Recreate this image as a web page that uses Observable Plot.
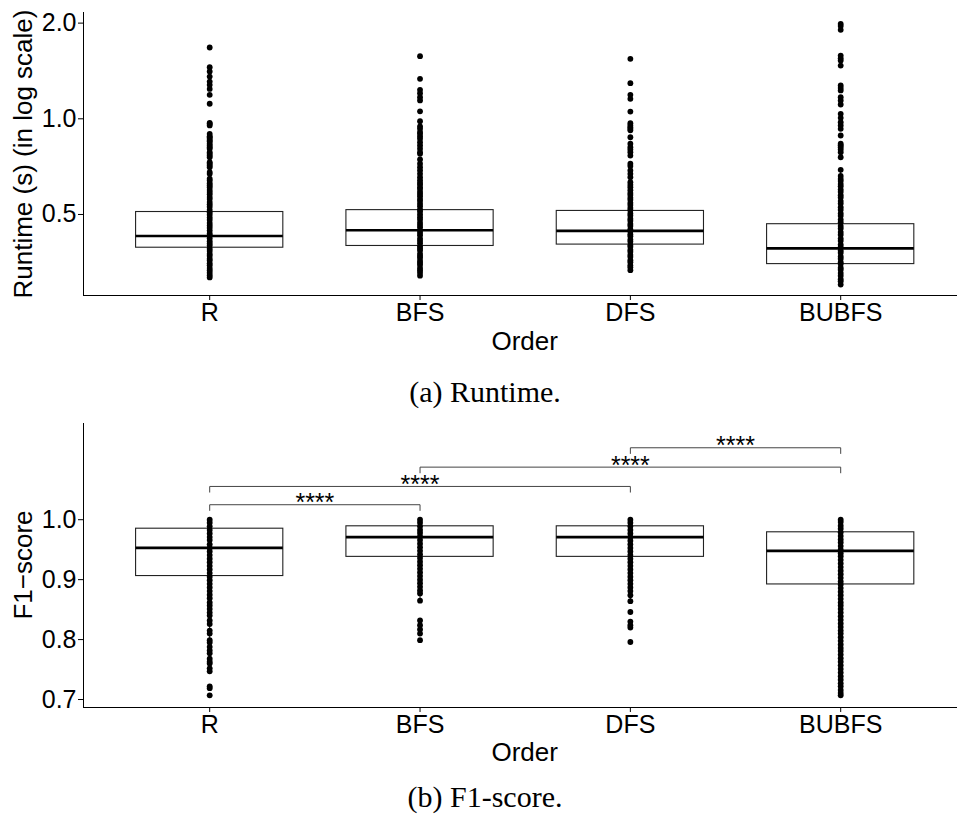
<!DOCTYPE html>
<html>
<head>
<meta charset="utf-8">
<script src="https://cdn.jsdelivr.net/npm/d3@7"></script>
<script src="https://cdn.jsdelivr.net/npm/@observablehq/plot@0.6"></script>
<style>
  body { margin: 0; background: white; }
  #fig { position: relative; width: 957px; height: 820px; background: white; overflow: hidden; }
  .plot { position: absolute; left: 0; }
  .t { position: absolute; white-space: nowrap; line-height: 1; color: #000;
       font-family: "Liberation Sans", Arial, sans-serif; font-size: 26px; }
  .xt { transform: translate(-50%, -50%); }
  .yt { transform: translate(-50%, -50%) rotate(-90deg); }
  .cap { position: absolute; white-space: nowrap; line-height: 1; color: #000;
         font-family: "Liberation Serif", "Times New Roman", serif; font-size: 30px;
         transform: translate(-50%, -50%); }
</style>
</head>
<body>
<div id="fig">
  <div id="p1" class="plot" style="top:0px"></div>
  <div class="t yt" style="left:22.5px; top:153.5px">Runtime (s) (in log scale)</div>
  <div class="t xt" style="left:524.7px; top:341px">Order</div>
  <div class="cap" style="left:485px; top:392px">(a) Runtime.</div>
  <div id="p2" class="plot" style="top:410px"></div>
  <div class="t yt" style="left:22.5px; top:565px">F1−score</div>
  <div class="t xt" style="left:524.7px; top:752px">Order</div>
  <div class="cap" style="left:485px; top:797px">(b) F1-score.</div>
</div>
<script>
// ---------- data ----------
const orders = ["R", "BFS", "DFS", "BUBFS"];

// Runtime (s) summary per order
const runtimeQ1     = [0.393, 0.398, 0.402, 0.349];
const runtimeMedian = [0.428, 0.446, 0.444, 0.391];
const runtimeQ3     = [0.509, 0.516, 0.513, 0.466];
const runtimeWhiskerHi = [0.713, 0.722, 0.722, 0.691];
const runtimeWhiskerLo = [0.317, 0.321, 0.334, 0.301];

const runtimeR = [1.676, 1.453, 1.409, 1.358, 1.31, 1.279, 1.242, 1.19, 1.115, 0.97, 0.965, 0.953, 0.897, 0.882, 0.875, 0.865, 0.855, 0.848, 0.835, 0.824, 0.814, 0.805, 0.785, 0.776, 0.766, 0.757, 0.73, 0.722, 0.713, 0.704, 0.68, 0.671, 0.648, 0.639, 0.627, 0.618, 0.609, 0.597, 0.588, 0.579, 0.567, 0.559, 0.547, 0.538, 0.529, 0.517, 0.508, 0.499, 0.489, 0.481, 0.47, 0.462, 0.454, 0.445, 0.436, 0.43, 0.421, 0.412, 0.405, 0.399, 0.39, 0.384, 0.376, 0.371, 0.363, 0.358, 0.351, 0.346, 0.339, 0.334, 0.328, 0.322, 0.317];
const runtimeBFS = [1.574, 1.336, 1.234, 1.204, 1.17, 1.142, 1.056, 0.983, 0.946, 0.93, 0.908, 0.897, 0.88, 0.865, 0.844, 0.824, 0.805, 0.785, 0.776, 0.745, 0.722, 0.704, 0.688, 0.671, 0.655, 0.641, 0.629, 0.621, 0.609, 0.601, 0.589, 0.58, 0.571, 0.559, 0.551, 0.54, 0.531, 0.519, 0.511, 0.5, 0.49, 0.482, 0.471, 0.463, 0.455, 0.444, 0.437, 0.43, 0.42, 0.413, 0.406, 0.397, 0.391, 0.385, 0.376, 0.37, 0.365, 0.357, 0.352, 0.347, 0.339, 0.334, 0.328, 0.321];
const runtimeDFS = [1.544, 1.294, 1.19, 1.156, 1.054, 0.969, 0.953, 0.94, 0.93, 0.92, 0.875, 0.835, 0.814, 0.8, 0.785, 0.766, 0.722, 0.71, 0.688, 0.671, 0.655, 0.632, 0.62, 0.609, 0.596, 0.584, 0.576, 0.564, 0.556, 0.544, 0.536, 0.524, 0.516, 0.504, 0.496, 0.485, 0.478, 0.467, 0.46, 0.449, 0.443, 0.433, 0.427, 0.417, 0.411, 0.401, 0.396, 0.387, 0.382, 0.373, 0.368, 0.359, 0.354, 0.346, 0.341, 0.334];
const runtimeBUBFS = [1.99, 1.96, 1.905, 1.581, 1.55, 1.525, 1.471, 1.273, 1.25, 1.228, 1.17, 1.142, 1.109, 1.037, 1.007, 0.976, 0.953, 0.93, 0.886, 0.835, 0.825, 0.814, 0.8, 0.785, 0.757, 0.691, 0.661, 0.647, 0.637, 0.623, 0.613, 0.599, 0.589, 0.575, 0.565, 0.551, 0.541, 0.527, 0.517, 0.504, 0.495, 0.482, 0.473, 0.46, 0.452, 0.44, 0.432, 0.42, 0.413, 0.402, 0.395, 0.385, 0.379, 0.369, 0.363, 0.354, 0.349, 0.34, 0.335, 0.327, 0.321, 0.313, 0.308, 0.301];

// F1-score summary per order
const f1Q1     = [0.906, 0.938, 0.938, 0.892];
const f1Median = [0.953, 0.971, 0.971, 0.948];
const f1Q3     = [0.985, 0.989, 0.989, 0.979];
const f1WhiskerHi = [1.0, 1.0, 1.0, 1.0];
const f1WhiskerLo = [0.788, 0.865, 0.864, 0.76];

const f1R = [1.0, 0.995, 0.989, 0.983, 0.977, 0.971, 0.966, 0.959, 0.953, 0.947, 0.941, 0.935, 0.929, 0.923, 0.917, 0.911, 0.905, 0.899, 0.893, 0.887, 0.881, 0.875, 0.869, 0.862, 0.857, 0.851, 0.845, 0.84, 0.832, 0.826, 0.815, 0.81, 0.799, 0.795, 0.788, 0.782, 0.777, 0.768, 0.763, 0.76, 0.752, 0.747, 0.722, 0.719, 0.707];
const f1BFS = [1.0, 0.995, 0.989, 0.983, 0.978, 0.972, 0.966, 0.96, 0.954, 0.948, 0.942, 0.936, 0.93, 0.924, 0.918, 0.912, 0.906, 0.9, 0.894, 0.888, 0.882, 0.877, 0.865, 0.832, 0.824, 0.817, 0.81, 0.799];
const f1DFS = [1.0, 0.995, 0.989, 0.983, 0.977, 0.971, 0.965, 0.959, 0.953, 0.947, 0.941, 0.935, 0.929, 0.923, 0.917, 0.911, 0.905, 0.899, 0.893, 0.887, 0.881, 0.874, 0.864, 0.846, 0.83, 0.824, 0.82, 0.796];
const f1BUBFS = [1.0, 0.996, 0.99, 0.985, 0.979, 0.973, 0.967, 0.962, 0.956, 0.95, 0.944, 0.939, 0.933, 0.927, 0.921, 0.915, 0.909, 0.903, 0.897, 0.892, 0.886, 0.88, 0.874, 0.868, 0.862, 0.857, 0.851, 0.845, 0.839, 0.833, 0.827, 0.821, 0.815, 0.81, 0.804, 0.798, 0.792, 0.786, 0.781, 0.775, 0.769, 0.763, 0.757, 0.751, 0.745, 0.739, 0.733, 0.727, 0.722, 0.716, 0.711, 0.707];

// significance comparisons (bottom panel)
const compGroup1 = ["R", "R", "BFS", "DFS"];
const compGroup2 = ["BFS", "DFS", "BUBFS", "BUBFS"];
const compY      = [1.025, 1.0555, 1.0877, 1.12];
const compLabel  = ["****", "****", "****", "****"];

const yTicksRuntime = [0.5, 1, 2];
const yTicksF1 = [0.7, 0.8, 0.9, 1.0];

// ---------- build tables ----------
const pos = o => orders.indexOf(o) + 1;
function summaries(q1, med, q3, lo, hi) {
  return orders.map((o, i) => ({order: o, q1: q1[i], median: med[i], q3: q3[i], lo: lo[i], hi: hi[i]}));
}
function points(lists) {
  return orders.flatMap((o, i) => lists[i].map(v => ({order: o, value: v})));
}
const rtBoxes = summaries(runtimeQ1, runtimeMedian, runtimeQ3, runtimeWhiskerLo, runtimeWhiskerHi);
const rtPoints = points([runtimeR, runtimeBFS, runtimeDFS, runtimeBUBFS]);
const f1Boxes = summaries(f1Q1, f1Median, f1Q3, f1WhiskerLo, f1WhiskerHi);
const f1Points = points([f1R, f1BFS, f1DFS, f1BUBFS]);

const half = 0.35;   // half box width (in category units)
const tip = 0.0095;  // bracket tip length
const comps = compGroup1.map((g, i) => ({id: i, g1: g, g2: compGroup2[i], y: compY[i], label: compLabel[i]}));
const bracketPath = comps.flatMap(c => [
  {id: c.id, x: pos(c.g1), y: c.y - tip},
  {id: c.id, x: pos(c.g1), y: c.y},
  {id: c.id, x: pos(c.g2), y: c.y},
  {id: c.id, x: pos(c.g2), y: c.y - tip}
]);

const common = {
  width: 957,
  height: 330,
  marginLeft: 83,
  marginRight: 0,
  style: {fontFamily: "'Liberation Sans', Arial, sans-serif", fontSize: "25px", color: "#000", background: "white", overflow: "visible"}
};
const xScale = {
  domain: [0.4, 4.6], range: [83, 966.4],
  ticks: [1, 2, 3, 4], tickFormat: d => orders[Math.round(d) - 1],
  tickSize: 5, tickPadding: 3, label: null, line: true
};

function boxMarks(boxes, pts) {
  return [
    Plot.ruleX(boxes, {x: d => pos(d.order), y1: "lo", y2: "hi", stroke: "#000", strokeWidth: 1}),
    Plot.rect(boxes, {x1: d => pos(d.order) - half, x2: d => pos(d.order) + half, y1: "q1", y2: "q3",
                      fill: "white", stroke: "#222", strokeWidth: 1.1}),
    Plot.ruleY(boxes, {y: "median", x1: d => pos(d.order) - half, x2: d => pos(d.order) + half,
                       stroke: "#000", strokeWidth: 2.6}),
    Plot.dot(pts, {x: d => pos(d.order), y: "value", r: 2.9, fill: "#000", stroke: "none"})
  ];
}

const p1 = Plot.plot({
  ...common,
  marginTop: 12,
  marginBottom: 35,
  x: xScale,
  y: {type: "log", domain: [0.278, 2.16], ticks: yTicksRuntime, tickFormat: d => d.toFixed(1),
      tickSize: 5, tickPadding: 2, label: null, line: true},
  marks: boxMarks(rtBoxes, rtPoints)
});
document.getElementById("p1").appendChild(p1);

const p2 = Plot.plot({
  ...common,
  marginTop: 13,
  marginBottom: 33,
  x: xScale,
  y: {domain: [0.6867, 1.1605], ticks: yTicksF1, tickFormat: d => d.toFixed(1),
      tickSize: 5, tickPadding: 2, label: null, line: true},
  marks: [
    ...boxMarks(f1Boxes, f1Points),
    Plot.line(bracketPath, {x: "x", y: "y", z: "id", stroke: "#444", strokeWidth: 1}),
    Plot.text(comps, {x: d => (pos(d.g1) + pos(d.g2)) / 2, y: "y", text: "label",
                      fontSize: 25, dy: -1.5, fill: "#000"})
  ]
});
document.getElementById("p2").appendChild(p2);
</script>
</body>
</html>
